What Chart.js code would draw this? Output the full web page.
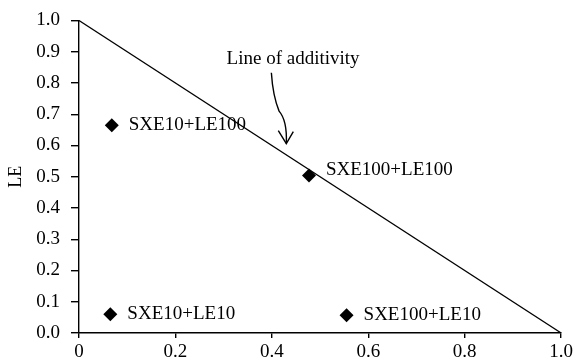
<!DOCTYPE html>
<html>
<head>
<meta charset="utf-8">
<title>LE vs SXE</title>
<script src="https://cdn.jsdelivr.net/npm/chart.js@4"></script>
<style>
    html, body { margin: 0; padding: 0; background: #fff; }
    #wrap { width: 578px; height: 362px; position: relative; }
</style>
</head>
<body>
<div id="wrap"><canvas id="chart"></canvas></div>
<script>
// Treatment combinations and their fractional effects
const categories = ['SXE10+LE100', 'SXE10+LE10', 'SXE100+LE100', 'SXE100+LE10'];
const sxeValues = [0.068, 0.065, 0.477, 0.555];
const leValues = [0.665, 0.06, 0.504, 0.057];

// Reference line: pure additivity from (0, 1) to (1, 0)
const additivityX = [0, 1];
const additivityY = [1, 0];

const xTickLabels = ['0', '0.2', '0.4', '0.6', '0.8', '1.0'];
const yTickLabels = ['0.0', '0.1', '0.2', '0.3', '0.4', '0.5', '0.6', '0.7', '0.8', '0.9', '1.0'];

const serif = '"Liberation Serif", "Times New Roman", serif';

// Writes each combination's name to the right of its marker
const pointLabels = {
    id: 'pointLabels',
    beforeDatasetsDraw(chart, args, opts) {
        const meta = chart.getDatasetMeta(0);
        const ctx = chart.ctx;
        ctx.save();
        ctx.font = opts.size + 'px ' + serif;
        ctx.fillStyle = '#000';
        ctx.textAlign = 'left';
        ctx.textBaseline = 'middle';
        meta.data.forEach((pt, i) => {
            const dy = (opts.dy && opts.dy[i]) || 0;
            ctx.fillText(categories[i], pt.x + opts.dx, pt.y + dy);
        });
        ctx.restore();
    }
};

// "Line of additivity" caption with a wavy arrow pointing at the diagonal
const additivityNote = {
    id: 'additivityNote',
    afterDatasetsDraw(chart, args, opts) {
        const x = chart.scales.x, y = chart.scales.y;
        const px = v => x.getPixelForValue(v);
        const py = v => y.getPixelForValue(v);
        const ctx = chart.ctx;
        ctx.save();
        ctx.font = opts.size + 'px ' + serif;
        ctx.fillStyle = '#000';
        ctx.textAlign = 'center';
        ctx.textBaseline = 'middle';
        ctx.fillText(opts.text, px(opts.textAt[0]), py(opts.textAt[1]));

        const p = opts.path.map(q => [px(q[0]), py(q[1])]);
        ctx.strokeStyle = '#000';
        ctx.lineWidth = 1.4;
        ctx.beginPath();
        ctx.moveTo(p[0][0], p[0][1]);
        ctx.quadraticCurveTo(p[1][0], p[1][1], p[2][0], p[2][1]);
        ctx.quadraticCurveTo(p[3][0], p[3][1], p[4][0], p[4][1]);
        ctx.stroke();

        // open arrow head
        const tip = p[4];
        ctx.beginPath();
        ctx.moveTo(tip[0] - 8, tip[1] - 13);
        ctx.lineTo(tip[0], tip[1]);
        ctx.lineTo(tip[0] + 7, tip[1] - 12);
        ctx.stroke();
        ctx.restore();
    }
};

const tickGrid = len => ({
    display: true,
    drawOnChartArea: false,
    drawTicks: true,
    tickLength: len,
    color: '#000',
    lineWidth: 1.4
});

new Chart(document.getElementById('chart'), {
    type: 'scatter',
    data: {
        datasets: [{
            label: 'Combinations',
            data: sxeValues.map((v, i) => ({ x: v, y: leValues[i] })),
            pointStyle: 'rectRot',
            pointRadius: 7,
            backgroundColor: '#000',
            borderColor: '#000',
            borderWidth: 0
        }, {
            label: 'Line of additivity',
            data: additivityX.map((v, i) => ({ x: v, y: additivityY[i] })),
            showLine: true,
            pointRadius: 0,
            borderColor: '#000',
            borderWidth: 1.4,
            clip: false
        }]
    },
    options: {
        responsive: true,
        maintainAspectRatio: false,
        animation: false,
        layout: { padding: { top: 19, right: 13, left: 0, bottom: 0 } },
        plugins: {
            legend: { display: false },
            tooltip: { enabled: false },
            pointLabels: { size: 19, dx: 17, dy: [0, 0, -5, 0] },
            additivityNote: {
                text: 'Line of additivity',
                size: 19,
                textAt: [0.444, 0.877],
                path: [[0.399, 0.833], [0.402, 0.76], [0.415, 0.71], [0.432, 0.68], [0.430, 0.606]]
            }
        },
        scales: {
            x: {
                type: 'linear',
                min: 0,
                max: 1,
                grid: tickGrid(5),
                border: { display: true, color: '#000', width: 1.4 },
                ticks: {
                    stepSize: 0.2,
                    padding: 5,
                    color: '#000',
                    maxRotation: 0,
                    font: { family: serif, size: 19, lineHeight: 1 },
                    callback: (v, i) => xTickLabels[i]
                },
                afterFit: s => { s.height = 29; }
            },
            y: {
                type: 'linear',
                min: 0,
                max: 1,
                grid: tickGrid(8),
                border: { display: true, color: '#000', width: 1.4 },
                title: {
                    display: true,
                    text: 'LE',
                    color: '#000',
                    font: { family: serif, size: 18 },
                    padding: { top: 5, bottom: 0 }
                },
                ticks: {
                    stepSize: 0.1,
                    padding: 11,
                    color: '#000',
                    font: { family: serif, size: 19, lineHeight: 1 },
                    callback: (v, i) => yTickLabels[i]
                },
                afterFit: s => { s.width = 79; }
            }
        }
    },
    plugins: [pointLabels, additivityNote]
});
</script>
</body>
</html>
